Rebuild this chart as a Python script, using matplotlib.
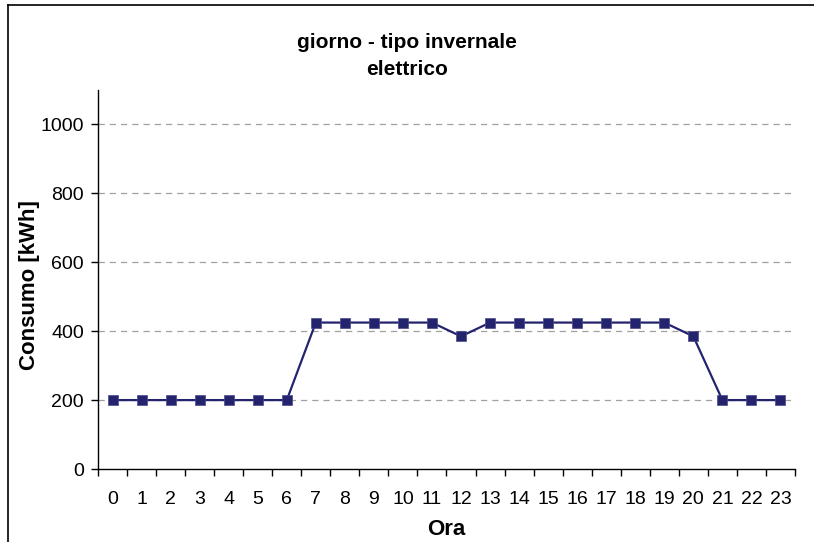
import matplotlib
matplotlib.use("Agg")
import matplotlib.pyplot as plt
import numpy as np

plt.rcParams['font.family'] = ['Liberation Sans', 'DejaVu Sans']

hours = [str(h) for h in range(24)]
consumo = [200, 200, 200, 200, 200, 200, 200, 425, 425, 425, 425, 425, 385,
           425, 425, 425, 425, 425, 425, 425, 385, 200, 200, 200]
yticks = [0, 200, 400, 600, 800, 1000]

fig = plt.figure(figsize=(8.14, 5.42), dpi=100)
ax = fig.add_axes([98/814, 1 - 469/542, (795-98)/814, (469-90)/542])

x = np.arange(len(hours))
ax.plot(x, consumo, color='#23236e', linewidth=1.6, marker='s',
        markersize=7.5, markerfacecolor='#23236e', markeredgecolor='#4a4a8a',
        markeredgewidth=0.5, zorder=3)

ax.set_xlim(-0.5, len(hours) - 0.5)
ax.set_ylim(0, 1100)
ax.set_yticks(yticks)
ax.set_yticklabels([str(v) for v in yticks], fontsize=14)
ax.set_xticks(np.arange(len(hours) + 1) - 0.5)
ax.set_xticklabels([])
ax.set_xticks(x, minor=True)
ax.set_xticklabels(hours, minor=True, fontsize=14)
ax.tick_params(axis='x', which='major', length=5, width=1, direction='out')
ax.tick_params(axis='x', which='minor', length=0, pad=16)
ax.tick_params(axis='y', length=5, width=1, direction='out', pad=5)

for v in yticks[1:]:
    ax.axhline(v, color='#a0a0a0', linestyle=(0, (5, 4)), linewidth=0.9, zorder=1)

for s in ['top', 'right']:
    ax.spines[s].set_visible(False)
for s in ['left', 'bottom']:
    ax.spines[s].set_linewidth(1)

ax.set_xlabel('Ora', fontsize=16, fontweight='bold', labelpad=8)
fig.text(30/814, 1 - 285/542, 'Consumo [kWh]', rotation=90, ha='center',
         va='center', fontsize=16, fontweight='bold')
fig.text(0.5, 1 - 48/542, 'giorno - tipo invernale', ha='center',
         va='baseline', fontsize=15, fontweight='bold')
fig.text(0.5, 1 - 75/542, 'elettrico', ha='center',
         va='baseline', fontsize=15, fontweight='bold')

# outer chart frame
fig.add_artist(plt.Line2D([8/814, 8/814], [0, 1 - 5/542], color='black', linewidth=1.2, transform=fig.transFigure))
fig.add_artist(plt.Line2D([8/814, 1], [1 - 5/542, 1 - 5/542], color='black', linewidth=1.2, transform=fig.transFigure))

fig.savefig('out.png', dpi=100)
